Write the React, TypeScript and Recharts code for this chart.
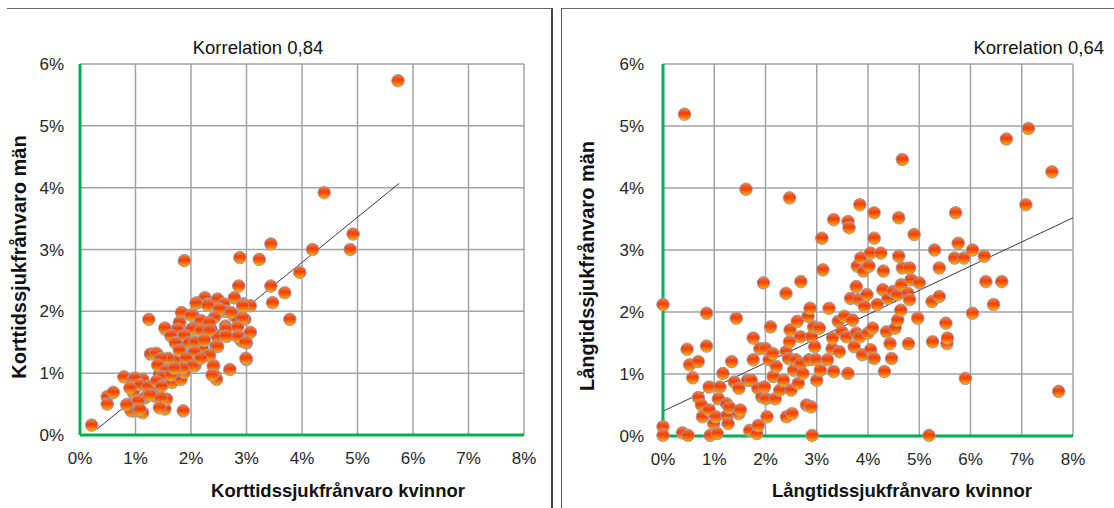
import React from "react";
import {
  ScatterChart,
  Scatter,
  XAxis,
  YAxis,
  CartesianGrid,
  ReferenceLine,
} from "recharts";

// values in percent, [kvinnor, män]
const shortTermPoints: [number, number][] = [
  [0.21, 0.16], [0.49, 0.62], [0.49, 0.5], [0.6, 0.69], [0.79, 0.94], [0.89, 0.5],
  [0.96, 0.9], [0.96, 0.69], [0.96, 0.39], [0.92, 0.39], [1.05, 0.39], [1.13, 0.9],
  [1.13, 0.36], [1.17, 0.6], [1.24, 1.87], [1.27, 1.31], [1.3, 0.74], [1.35, 0.63],
  [1.39, 1.31], [1.43, 0.98], [1.5, 1.09], [1.53, 0.42], [1.56, 0.58], [1.54, 0.85],
  [1.54, 1.71], [1.59, 1.22], [1.64, 1.6], [1.66, 0.85], [1.72, 1.49], [1.75, 1.71],
  [1.78, 1.22], [1.8, 1.82], [1.82, 0.9], [1.85, 1.66], [1.86, 1.95], [1.88, 2.82],
  [1.86, 0.39], [1.88, 1.01], [1.91, 1.49], [1.95, 1.28], [2.04, 1.93], [2.04, 1.71],
  [2.04, 1.49], [2.07, 1.12], [2.11, 1.33], [2.12, 2.14], [2.17, 1.82], [2.2, 1.41],
  [2.25, 2.22], [2.27, 1.6], [2.31, 2.12], [2.33, 1.28], [2.36, 1.71], [2.41, 1.12],
  [2.43, 0.96], [2.45, 1.44], [2.46, 0.9], [2.48, 2.2], [2.49, 1.6], [2.5, 1.98],
  [2.59, 2.12], [2.61, 2.0], [2.62, 1.76], [2.65, 1.6], [2.7, 1.06], [2.75, 1.95],
  [2.78, 2.22], [2.84, 1.87], [2.86, 1.6], [2.86, 2.41], [2.88, 2.87], [2.91, 1.52],
  [2.94, 2.12], [2.97, 1.87], [3.0, 1.49], [3.0, 1.22], [3.07, 1.66], [3.07, 2.09],
  [3.23, 2.84], [3.44, 3.09], [3.44, 2.41], [3.47, 2.14], [3.69, 2.3], [3.78, 1.87],
  [3.96, 2.63], [4.19, 3.0], [4.4, 3.92], [4.87, 3.0], [4.92, 3.25], [5.73, 5.73],
  [2.09, 2.13], [2.3, 2.1], [2.51, 2.04], [2.72, 1.98], [2.93, 2.09], [1.83, 1.98],
  [2.0, 1.94], [2.18, 1.85], [2.42, 1.9], [2.93, 1.89], [1.79, 1.82], [1.53, 1.73],
  [2.33, 1.82], [2.02, 1.72], [1.76, 1.71], [2.18, 1.69], [2.63, 1.72], [2.84, 1.74],
  [1.64, 1.61], [1.88, 1.61], [2.48, 1.59], [2.33, 1.69], [2.84, 1.59], [2.63, 1.6],
  [2.98, 1.5], [1.72, 1.49], [1.97, 1.5], [2.08, 1.5], [2.24, 1.53], [2.48, 1.43],
  [2.33, 1.29], [1.37, 1.32], [1.79, 1.37], [2.06, 1.34], [1.59, 1.24], [1.46, 1.24],
  [1.91, 1.24], [2.03, 1.12], [2.18, 1.24], [2.4, 1.12], [2.99, 1.24], [1.4, 1.13],
  [1.55, 1.05], [1.85, 1.08], [1.49, 0.95], [1.64, 0.97], [1.7, 1.08], [2.38, 0.97],
  [0.99, 0.92], [1.08, 0.81], [1.23, 0.79], [1.38, 0.87], [1.47, 0.79], [0.9, 0.76],
  [1.26, 0.65], [1.46, 0.6], [1.05, 0.55], [1.43, 0.44], [1.08, 0.41], [0.84, 0.49],
];

const longTermPoints: [number, number][] = [
  [0, 2.12], [0, 0.15], [0, 0.01], [0.42, 5.19], [0.38, 0.05], [0.49, 0.01],
  [0.47, 1.4], [0.52, 1.15], [0.58, 0.94], [0.69, 1.2], [0.69, 0.62], [0.75, 0.5],
  [0.77, 0.31], [0.85, 1.98], [0.85, 1.45], [0.9, 0.79], [0.9, 0.42], [0.92, 0.01],
  [0.99, 0.2], [1.03, 0.31], [1.06, 0.04], [1.08, 0.6], [1.11, 0.79], [1.17, 1.01],
  [1.24, 0.52], [1.25, 0.33], [1.27, 0.2], [1.3, 0.46], [1.34, 1.2], [1.39, 0.87],
  [1.43, 1.9], [1.48, 0.77], [1.48, 0.36], [1.51, 0.42], [1.62, 3.98], [1.65, 0.9],
  [1.69, 0.09], [1.72, 0.9], [1.76, 1.58], [1.76, 1.23], [1.83, 0.04], [1.85, 0.77],
  [1.86, 0.17], [1.89, 1.41], [1.93, 0.63], [1.96, 2.47], [1.98, 0.79], [2.0, 1.41],
  [2.01, 0.6], [2.03, 0.31], [2.07, 1.23], [2.1, 1.76], [2.14, 1.33], [2.15, 0.96],
  [2.21, 1.12], [2.19, 0.6], [2.28, 0.74], [2.35, 0.9], [2.4, 2.3], [2.4, 1.36],
  [2.41, 0.31], [2.45, 1.25], [2.47, 3.84], [2.47, 1.52], [2.48, 1.71], [2.5, 0.74],
  [2.52, 0.36], [2.55, 1.06], [2.59, 1.23], [2.62, 1.85], [2.64, 0.85], [2.68, 1.6],
  [2.69, 2.49], [2.69, 1.17], [2.73, 1.01], [2.8, 0.5], [2.83, 1.93], [2.85, 1.23],
  [2.87, 2.06], [2.89, 0.47], [2.9, 1.6], [2.91, 0.01], [2.94, 1.76], [2.96, 1.44],
  [2.98, 1.23], [3.0, 0.9], [3.05, 1.74], [3.07, 1.06], [3.1, 3.19], [3.12, 2.68],
  [3.21, 1.23], [3.24, 2.06], [3.3, 1.41], [3.31, 1.58], [3.33, 3.49], [3.33, 1.04],
  [3.42, 1.85], [3.44, 1.36], [3.49, 1.68], [3.54, 1.93], [3.58, 1.6], [3.61, 3.46],
  [3.63, 3.36], [3.61, 1.01], [3.66, 2.22], [3.7, 1.87], [3.73, 1.44], [3.77, 2.41],
  [3.77, 1.66], [3.79, 2.74], [3.82, 2.2], [3.84, 3.73], [3.84, 1.6], [3.86, 2.87],
  [3.89, 1.31], [3.91, 2.66], [3.93, 2.09], [3.98, 2.28], [4.0, 1.66], [4.02, 2.74],
  [4.05, 2.95], [4.05, 1.39], [4.09, 1.74], [4.12, 3.6], [4.12, 3.19], [4.12, 1.25],
  [4.18, 2.12], [4.25, 2.95], [4.29, 2.36], [4.3, 2.66], [4.32, 1.04], [4.36, 1.68],
  [4.39, 2.22], [4.43, 1.49], [4.46, 1.25], [4.49, 2.33], [4.53, 1.74], [4.57, 2.28],
  [4.58, 1.87], [4.6, 3.52], [4.6, 2.9], [4.64, 2.03], [4.65, 2.44], [4.67, 4.46],
  [4.67, 2.71], [4.78, 2.3], [4.79, 1.49], [4.81, 2.2], [4.81, 2.71], [4.84, 2.52],
  [4.9, 3.25], [4.97, 1.9], [5.0, 2.47], [5.19, 0.01], [5.25, 2.17], [5.26, 1.52],
  [5.3, 3.0], [5.39, 2.71], [5.39, 2.25], [5.52, 1.82], [5.54, 1.49], [5.55, 1.58],
  [5.69, 2.87], [5.71, 3.6], [5.76, 3.11], [5.87, 2.87], [5.9, 0.93], [6.04, 1.98],
  [6.04, 3.0], [6.27, 2.9], [6.3, 2.49], [6.45, 2.12], [6.61, 2.49], [6.7, 4.79],
  [7.08, 3.73], [7.13, 4.96], [7.59, 4.26], [7.72, 0.72],
];

// trend line end points
const shortTermTrend: [number, number][] = [[0.3, 0.09], [5.75, 4.07]];
const longTermTrend: [number, number][] = [[0, 0.4], [8, 3.52]];

const xTicks = [0, 1, 2, 3, 4, 5, 6, 7, 8];
const yTicks = [0, 1, 2, 3, 4, 5, 6];

const FONT = "'Liberation Sans', Arial, sans-serif";
const GREEN = "#00b050";

const toXY = (pts: [number, number][]) => pts.map(([x, y]) => ({ x, y }));
const pct = (v: number) => `${v}%`;

function Ball(props: any) {
  const { cx, cy, gid } = props;
  if (cx == null || cy == null) return null;
  return (
    <circle
      cx={cx}
      cy={cy}
      r={6.3}
      fill={`url(#${gid})`}
      stroke="#8a9cc4"
      strokeWidth={0.9}
    />
  );
}

interface PanelProps {
  id: string;
  points: [number, number][];
  trend: [number, number][];
  yAxisWidth: number;
  rightMargin: number;
  bottomMargin: number;
  yTickGap: number;
  title: string;
  titleX: number;
  titleAnchor: "middle" | "end";
  xTitle: string;
  xTitleX: number;
  yTitle: string;
  yTitleX: number;
  yTitleY: number;
}

function Panel(p: PanelProps) {
  const tick = { fill: "#262626", fontSize: 17, fontFamily: FONT };
  return (
    <ScatterChart
      width={560}
      height={508}
      margin={{ top: 64, right: p.rightMargin, bottom: p.bottomMargin, left: 0 }}
      style={{ overflow: "visible" }}
    >
      <defs>
        <linearGradient id={p.id} x1="0" y1="0" x2="0" y2="1">
          <stop offset="0%" stopColor="#f5863a" />
          <stop offset="45%" stopColor="#f53c08" />
          <stop offset="100%" stopColor="#ffb400" />
        </linearGradient>
      </defs>
      <CartesianGrid stroke="#a3a3a3" strokeWidth={1.5} />
      <XAxis
        type="number"
        dataKey="x"
        domain={[0, 8]}
        ticks={xTicks}
        tickFormatter={pct}
        tick={tick}
        tickLine={false}
        tickSize={0}
        tickMargin={17}
        height={40}
        axisLine={{ stroke: GREEN, strokeWidth: 3 }}
      />
      <YAxis
        type="number"
        dataKey="y"
        domain={[0, 6]}
        ticks={yTicks}
        tickFormatter={pct}
        tick={tick}
        tickLine={false}
        tickSize={0}
        tickMargin={p.yTickGap}
        width={p.yAxisWidth}
        axisLine={{ stroke: GREEN, strokeWidth: 3 }}
      />
      <ReferenceLine
        segment={toXY(p.trend)}
        stroke="#3a3a3a"
        strokeWidth={1}
      />
      <Scatter
        data={toXY(p.points)}
        isAnimationActive={false}
        shape={(s: any) => <Ball {...s} gid={p.id} />}
      />
      <text
        x={p.titleX}
        y={54}
        textAnchor={p.titleAnchor}
        fontFamily={FONT}
        fontSize={18.5}
        fill="#111"
      >
        {p.title}
      </text>
      <text
        x={p.xTitleX}
        y={497}
        textAnchor="middle"
        fontFamily={FONT}
        fontSize={18.5}
        fontWeight="bold"
        fill="#111"
      >
        {p.xTitle}
      </text>
      <text
        x={p.yTitleX}
        y={p.yTitleY}
        textAnchor="middle"
        fontFamily={FONT}
        fontSize={20}
        fontWeight="bold"
        fill="#111"
        transform={`rotate(-90 ${p.yTitleX} ${p.yTitleY})`}
      >
        {p.yTitle}
      </text>
    </ScatterChart>
  );
}

export default function App() {
  return (
    <div
      style={{
        position: "absolute",
        left: 0,
        top: 0,
        width: 1114,
        height: 508,
        background: "#fff",
      }}
    >
      <div
        style={{
          position: "absolute",
          left: 7,
          top: 8,
          width: 546,
          height: 500,
          borderTop: "1px solid #666",
          borderRight: "2px solid #444",
          boxSizing: "border-box",
        }}
      />
      <div
        style={{
          position: "absolute",
          left: 561,
          top: 8,
          width: 553,
          height: 500,
          borderTop: "1px solid #666",
          borderLeft: "1px solid #555",
          boxSizing: "border-box",
        }}
      />
      <div style={{ position: "absolute", left: 0, top: 0 }}>
        <Panel
          id="ballShort"
          points={shortTermPoints}
          trend={shortTermTrend}
          yAxisWidth={80}
          rightMargin={36}
          bottomMargin={33}
          yTickGap={16}
          title="Korrelation 0,84"
          titleX={258}
          titleAnchor="middle"
          xTitle="Korttidssjukfrånvaro kvinnor"
          xTitleX={338}
          yTitle="Korttidssjukfrånvaro män"
          yTitleX={26}
          yTitleY={257}
        />
      </div>
      <div style={{ position: "absolute", left: 554, top: 0 }}>
        <Panel
          id="ballLong"
          points={longTermPoints}
          trend={longTermTrend}
          yAxisWidth={109}
          rightMargin={41}
          bottomMargin={32}
          yTickGap={19}
          title="Korrelation 0,64"
          titleX={550}
          titleAnchor="end"
          xTitle="Långtidssjukfrånvaro kvinnor"
          xTitleX={348}
          yTitle="Långtidssjukfrånvaro män"
          yTitleX={40}
          yTitleY={266}
        />
      </div>
    </div>
  );
}
